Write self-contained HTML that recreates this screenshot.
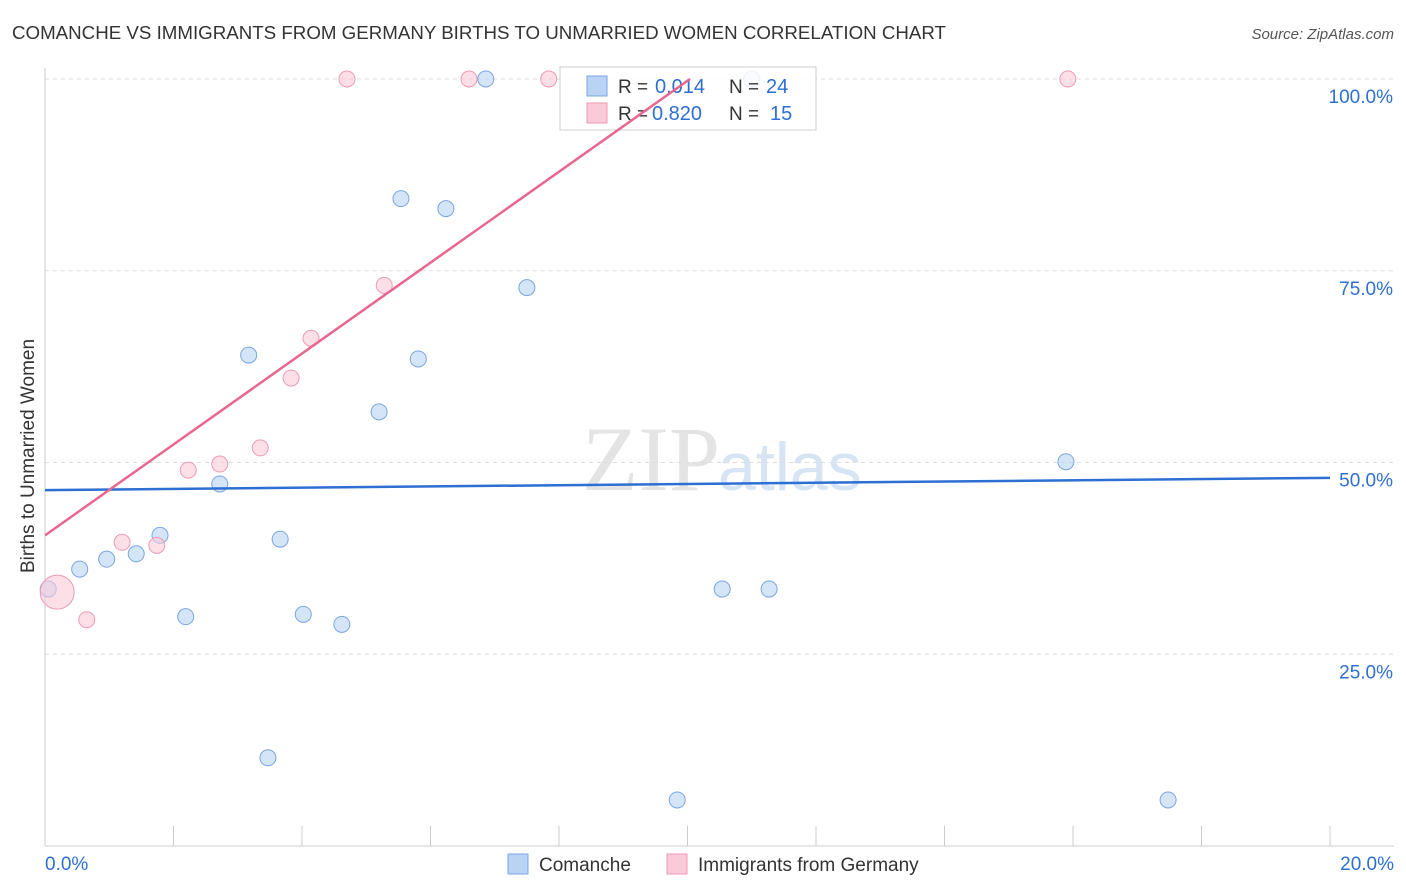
<!DOCTYPE html>
<html><head><meta charset="utf-8"><style>
body{margin:0;background:#fff;font-family:"Liberation Sans",sans-serif;}
svg{display:block}
</style></head><body>
<svg id="c" width="1406" height="892">
<text x="12" y="39" font-size="18" fill="#333" textLength="934" lengthAdjust="spacingAndGlyphs">COMANCHE VS IMMIGRANTS FROM GERMANY BIRTHS TO UNMARRIED WOMEN CORRELATION CHART</text>
<text x="1394" y="39" font-size="15" fill="#555" font-style="italic" text-anchor="end">Source: ZipAtlas.com</text>
<text x="720" y="490" font-size="92" fill="#e4e4e4" font-family="Liberation Serif,serif" text-anchor="end">ZIP</text>
<text x="718" y="490" font-size="68" fill="#d6e4f4" text-anchor="start">atlas</text>
<text transform="translate(34,456) rotate(-90)" font-size="19" fill="#333" text-anchor="middle">Births to Unmarried Women</text>
<g id="grid"></g><g id="marks"></g>
<g id="legend">
<rect x="560" y="67" width="256" height="63" fill="#fff" fill-opacity="0.85" stroke="#ccc"/>
<rect x="587" y="76" width="20" height="20" fill="#b8d3f4" stroke="#7aa6e0"/>
<rect x="587" y="103" width="20" height="20" fill="#fbcad8" stroke="#ef9ab4"/>
<text x="618" y="93" font-size="19" fill="#333">R =</text>
<text x="655" y="93" font-size="20" fill="#2d6fd3">0.014</text>
<text x="729" y="93" font-size="19" fill="#333">N =</text>
<text x="766" y="93" font-size="20" fill="#2d6fd3">24</text>
<text x="618" y="120" font-size="19" fill="#333">R =</text>
<text x="652" y="120" font-size="20" fill="#2d6fd3">0.820</text>
<text x="729" y="120" font-size="19" fill="#333">N =</text>
<text x="770" y="120" font-size="20" fill="#2d6fd3">15</text>
</g>
<g>
<rect x="508" y="854" width="20" height="20" fill="#b8d3f4" stroke="#7aa6e0"/>
<text x="539" y="871" font-size="19" fill="#333">Comanche</text>
<rect x="667" y="854" width="20" height="20" fill="#fbcad8" stroke="#ef9ab4"/>
<text x="698" y="871" font-size="19" fill="#333">Immigrants from Germany</text>
</g>
</svg>
<script>
const xTicks=[0,2,4,6,8,10,12,14,16,18,20];
const yTicks=[25,50,75,100];
const blueX=[0.05,0.54,0.96,1.42,1.79,2.19,2.72,3.17,3.47,3.66,4.02,4.62,5.20,5.54,5.81,6.24,6.86,7.50,9.84,10.54,11.00,11.27,15.89,17.48];
const blueY=[33.5,36.1,37.4,38.1,40.5,29.9,47.2,64.0,11.5,40.0,30.2,28.9,56.6,84.4,63.5,83.1,100,72.8,6.0,33.5,100,33.5,50.1,6.0];
const pinkX=[0.19,0.65,1.20,1.74,2.23,2.72,3.35,3.83,4.14,4.70,5.28,6.60,7.84,15.92];
const pinkY=[33.1,29.5,39.6,39.2,49.0,49.8,51.9,61.0,66.2,100,73.1,100,100,100];
const blueLine=[[0,46.4],[20,48.0]];
const pinkLine=[[0,40.5],[10.04,100]];
const NS="http://www.w3.org/2000/svg";
const sx=v=>45+v/20*1285, sy=v=>846-v/100*767;
function mk(t,a,p){const e=document.createElementNS(NS,t);for(const k in a)e.setAttribute(k,a[k]);p.appendChild(e);return e;}
const g=document.getElementById('grid'),m=document.getElementById('marks');
let ax=mk('line',{x1:45,y1:846,x2:1394,y2:846,stroke:'#ccc'},g);


let ay=mk('line',{x1:45,y1:68,x2:45,y2:846,stroke:'#ccc'},g);


xTicks.forEach(t=>{const l=mk('line',{x1:sx(t),y1:826,x2:sx(t),y2:846,stroke:'#ccc'},g);

});
[[0,'0.0%',45,'start'],[20,'20.0%',1394,'end']].forEach(d=>{const t=mk('text',{x:d[2],y:870,'font-size':19,fill:'#2d6fd3','text-anchor':d[3]},g);t.textContent=d[1];

});
yTicks.forEach(v=>{const l=mk('line',{x1:45,y1:sy(v),x2:1394,y2:sy(v),stroke:'#ddd','stroke-dasharray':'4,4'},g);


const t=mk('text',{x:1393,y:sy(v)+24,'font-size':19,fill:'#2d6fd3','text-anchor':'end'},g);t.textContent=v.toFixed(1)+'%';

});
blueX.forEach((x,i)=>{const c=mk('circle',{cx:sx(x),cy:sy(blueY[i]),r:8,fill:'rgba(184,211,244,0.6)',stroke:'#7aa6e0','stroke-width':1},m);

});
pinkX.forEach((x,i)=>{const c=mk('circle',{cx:sx(x),cy:sy(pinkY[i]),r:i==0?17:8,fill:'rgba(251,202,216,0.6)',stroke:'#ef9ab4','stroke-width':1},m);

});
let bl=mk('line',{x1:sx(blueLine[0][0]),y1:sy(blueLine[0][1]),x2:sx(blueLine[1][0]),y2:sy(blueLine[1][1]),stroke:'#2d6fd3','stroke-width':2.5},m);


const svgEl=document.getElementById('c');
svgEl.appendChild(document.getElementById('legend'));
const topG=mk('g',{},svgEl);
let pl=mk('line',{x1:sx(pinkLine[0][0]),y1:sy(pinkLine[0][1]),x2:sx(pinkLine[1][0]),y2:sy(pinkLine[1][1]),stroke:'#e8678f','stroke-width':2.5},topG);


</script>
</body></html>
